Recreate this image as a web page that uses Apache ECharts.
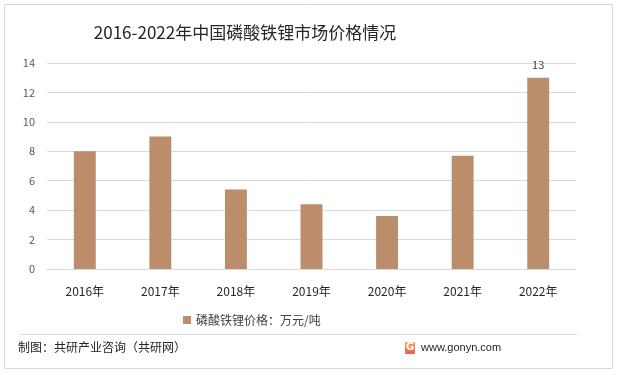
<!DOCTYPE html>
<html><head><meta charset="utf-8">
<script src="https://cdn.jsdelivr.net/npm/echarts@6/dist/echarts.min.js"></script>
<style>html,body{margin:0;padding:0;background:#fff}#c{width:617px;height:375px}</style>
</head><body><div id="c"></div>
<script>
var categories = ['2016年','2017年','2018年','2019年','2020年','2021年','2022年'];
var prices = [8.0, 9.0, 5.4, 4.4, 3.6, 7.7, 13];
var seriesName = '磷酸铁锂价格：万元/吨';
var titleText = '2016-2022年中国磷酸铁锂市场价格情况';
var footLeft = '制图：共研产业咨询（共研网）';
var footRight = 'www.gonyn.com';

var font = '"Noto Sans CJK SC", "Noto Sans", sans-serif';
var chart = echarts.init(document.getElementById('c'));
chart.setOption({
  animation: false,
  textStyle: {fontFamily: font},
  title: {text: titleText, left: 240, top: 19, textAlign: 'center',
    textStyle: {fontSize: 17, fontWeight: 'normal', color: '#262626', fontFamily: font}},
  legend: {data: [seriesName], left: 178, top: 309, itemWidth: 8, itemHeight: 8,
    icon: 'rect', itemGap: 4, textStyle: {fontSize: 12, color: '#404040'}},
  grid: {left: 47, right: 41, top: 63, bottom: 106, containLabel: false},
  xAxis: {type: 'category', data: categories,
    axisLine: {lineStyle: {color: '#d9d9d9'}}, axisTick: {show: false},
    axisLabel: {color: '#262626', fontSize: 12, margin: 16}},
  yAxis: {type: 'value', min: 0, max: 14, interval: 2,
    axisLine: {show: false}, axisTick: {show: false},
    splitLine: {lineStyle: {color: '#d9d9d9'}},
    axisLabel: {color: '#595959', fontSize: 11, margin: 12}},
  series: [{name: seriesName, type: 'bar', data: prices.map(function(v, i){
      return i === prices.length - 1 ? {value: v, label: {show: true}} : v;
    }),
    barWidth: '29%', itemStyle: {color: '#bb8d6b'},
    label: {show: false, position: 'top', color: '#404040', fontSize: 11, distance: 7}}],
  graphic: [
    {type: 'rect', shape: {x: 4.5, y: 4.5, width: 608, height: 364}, silent: true,
      style: {fill: 'none', stroke: '#d9d9d9', lineWidth: 1}},
    {type: 'line', shape: {x1: 20, y1: 334.5, x2: 577, y2: 334.5},
      style: {stroke: '#d9d9d9', lineWidth: 1}},
    {type: 'text', left: 18, top: 341, style: {text: footLeft, fontSize: 12, fill: '#262626', fontFamily: font}},
    {type: 'rect', shape: {x: 405, y: 342, width: 10, height: 12, r: 1},
      style: {fill: new echarts.graphic.LinearGradient(0,0,0,1,[{offset:0,color:'#f7a35c'},{offset:1,color:'#e8604c'}])}},
    {type: 'text', left: 406, top: 342, style: {text: 'G', fontSize: 10, fontWeight: 'bold', fill: '#fff', fontFamily: 'DejaVu Sans'}},
    {type: 'text', left: 421, top: 342, style: {text: footRight, fontSize: 11, fill: '#262626', fontFamily: '"Liberation Sans", sans-serif'}}
  ]
});
</script></body></html>
